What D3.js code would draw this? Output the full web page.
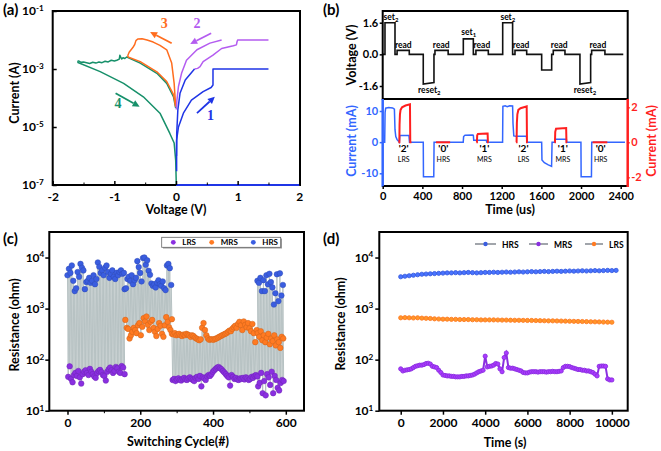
<!DOCTYPE html>
<html><head><meta charset="utf-8">
<script src="https://cdn.jsdelivr.net/npm/d3@7"></script>
<style>
html,body{margin:0;padding:0;background:#fff;}
svg{display:block;font-family:Lato,"Open Sans",sans-serif;font-weight:bold;}
</style></head><body>
<svg id="fig" width="661" height="451"></svg>
<script>
// ---------- (a) I-V sweeps [V, I(A)] ----------
const iv1Set = [[0.01,3e-7],[0.01,3.5e-6],[0.04,1.0e-5],[0.12,3.0e-5],[0.25,8.5e-5],[0.44,1.65e-4],[0.57,2.3e-4],[0.6,2.8e-4],[0.6,1e-3],[1.5,1e-3]];
const iv1Reset = [[0.3,1e-3],[0.15,4.2e-4],[0.065,1.45e-4],[0.03,3.9e-5],[0.012,6.3e-6],[0.008,1e-6]];
const iv1Floor = [[0,1e-7],[2,1e-7]];
const iv2Set = [[0.3,1e-3],[0.35,1.05e-3],[0.39,1.2e-3],[0.44,1.8e-3],[0.6,3.0e-3],[0.74,5.1e-3],[0.93,6.3e-3],[0.98,6.8e-3],[0.99,8.7e-3],[1.0,1e-2],[1.5,1e-2]];
const iv2Reset = [[0.74,1e-2],[0.55,7.8e-3],[0.34,4.6e-3],[0.17,2.0e-3],[0.09,7.1e-4],[0.04,2.5e-4],[0.015,8.5e-5],[0.005,4e-5]];
const iv3Set = [[-0.005,5e-5],[-0.03,3.2e-4],[-0.07,1.6e-3],[-0.15,4.6e-3],[-0.26,6.5e-3],[-0.37,8.5e-3],[-0.47,1.0e-2],[-0.55,1.1e-2],[-0.62,1.08e-2],[-0.65,9.5e-3],[-0.67,7e-3],[-0.70,5.5e-3],[-0.76,3.8e-3],[-0.78,3.0e-3],[-0.78,2.6e-3]];
const iv3Reset = [[-0.78,2.6e-3],[-0.58,1.8e-3],[-0.31,8e-4],[-0.15,3.7e-4],[-0.04,1.3e-4],[-0.005,5e-5]];
const iv4Set = [[-0.005,4.5e-5],[-0.04,1.1e-4],[-0.15,3.2e-4],[-0.31,7.1e-4],[-0.58,1.6e-3],[-0.77,2.45e-3],[-0.80,2.6e-3],[-0.83,2.3e-3],[-0.86,2.45e-3],[-0.88,2.2e-3],[-0.90,2.6e-3],[-0.91,3.0e-3],[-0.92,2.2e-3],[-0.96,2.0e-3],[-1.0,1.9e-3],[-1.05,2.0e-3],[-1.1,1.75e-3],[-1.15,1.85e-3],[-1.2,1.65e-3],[-1.25,1.75e-3],[-1.3,1.6e-3],[-1.35,1.7e-3],[-1.4,1.55e-3],[-1.45,1.65e-3],[-1.5,1.75e-3],[-1.54,1.7e-3],[-1.58,1.9e-3],[-1.6,1.8e-3]];
const iv4Reset = [[-1.6,1.7e-3],[-1.23,8.1e-4],[-0.85,3.2e-4],[-0.53,1.1e-4],[-0.26,3e-5],[-0.10,6e-6],[-0.03,2.8e-6],[-0.005,7e-7],[0.005,1e-7]];
const ivArrows = [
  {n:"3", c:"#ff6d1f", from:[-0.07,7.7e-3], to:[-0.42,1.9e-2], lab:[-0.19,2.6e-2]},
  {n:"2", c:"#b45cf0", from:[0.57,1.7e-2], to:[0.23,7.3e-3], lab:[0.34,2.6e-2]},
  {n:"1", c:"#1f35e6", from:[0.34,3e-5], to:[0.63,1.1e-4], lab:[0.56,1.7e-5]},
  {n:"4", c:"#17906a", from:[-0.98,1.45e-4], to:[-0.59,5e-5], lab:[-0.94,4.6e-5]}
];
const ivXTicks = [-2,-1,0,1,2];
const ivXMinor = [-1.5,-0.5,0.5,1.5];
const ivYTicks = [1e-1,1e-3,1e-5,1e-7];

// ---------- (b) pulse train ----------
const voltT = [0,23,23,124,124,145,145,268,268,409,409,517,517,527,527,660,660,813,813,914,914,940,940,1065,1065,1210,1210,1310,1310,1334,1334,1452,1452,1603,1603,1704,1704,1720,1720,1838,1838,1989,1989,2097,2097,2107,2107,2241,2241,2426];
const voltV = [0,0,1.6,1.6,0,0,0.2,0.2,0,0,-1.5,-1.42,0,0,0.2,0.2,0,0,0.78,0.78,0,0,0.2,0.2,0,0,1.6,1.6,0,0,0.2,0.2,0,0,-0.79,-0.79,0,0,0.2,0.2,0,0,-1.5,-1.42,0,0,0.2,0.2,0,0];
const voltLabels = [
  {t:84,v:1.72,s:"set",sub:"2"},{t:208,v:0.34,s:"read"},{t:470,v:-1.93,s:"reset",sub:"2"},
  {t:590,v:0.34,s:"read"},{t:868,v:0.97,s:"set",sub:"1"},{t:1000,v:0.34,s:"read"},
  {t:1262,v:1.72,s:"set",sub:"2"},{t:1395,v:0.34,s:"read"},{t:1780,v:0.34,s:"read"},
  {t:2040,v:-1.93,s:"reset",sub:"2"},{t:2170,v:0.34,s:"read"}
];
const curBlue = [[0,0],[20,0],[24,9.5],[30,10.9],[60,11.1],[100,11],[118,10.6],[124,4],[132,1.8],[145,0.8],[160,0.3],[168,0],[172,2.0],[180,2.1],[265,2.1],[270,0],[409,0],[411,-11.1],[515,-11.1],[518,0],[812,0],[816,1.8],[830,2.2],[905,2.3],[914,2.2],[918,0.6],[1045,0.6],[1050,0],[1209,0],[1212,11.5],[1235,11.7],[1256,11.4],[1280,11.7],[1310,11.6],[1314,6],[1322,2.0],[1345,1.9],[1450,1.9],[1455,0],[1603,0],[1606,-5.7],[1630,-6.6],[1670,-7.3],[1703,-7.8],[1708,0],[1737,0],[1740,0.95],[1852,0.95],[1855,0],[1999,0],[2001,-11.1],[2105,-11.1],[2108,0],[2443,0]];
const curRed1 = [[158,0],[168,0],[170,1.0],[174,1.6],[180,1.85],[195,2.0],[230,2.1],[275,2.17],[278,0],[290,0]];
const curRed2 = [[538,0],[680,0]];
const curRed3 = [[945,0],[950,0],[953,0.4],[960,0.47],[1050,0.5],[1058,0.5],[1061,0],[1068,0]];
const curRed4 = [[1345,0],[1350,0],[1353,1.1],[1358,1.6],[1368,1.85],[1390,1.95],[1440,2.03],[1452,2.05],[1455,0],[1462,0]];
const curRed5 = [[1732,0],[1737,0],[1740,0.6],[1748,0.78],[1850,0.82],[1853,0],[1860,0]];
const curRed6 = [[2117,0],[2265,0]];
const stateLabels = [{t:212,q:"'2'",s:"LRS"},{t:612,q:"'0'",s:"HRS"},{t:1026,q:"'1'",s:"MRS"},{t:1420,q:"'2'",s:"LRS"},{t:1817,q:"'1'",s:"MRS"},{t:2198,q:"'0'",s:"HRS"}];
const timeTicks = [0,400,800,1200,1600,2000,2400];
const voltTicks = [-1.6,0,1.6];
const curTicks = [-10,0,10];
const curRTicks = [-2,0,2];

// ---------- (c) cycling endurance (ohm) ----------
const segCycles = [[0,155],[157,285],[287,520],[522,592]];
const hrs1 = [4500,6000,5000,7000,3500,2200,2500,5200,4200,7500,6300,5600,2400,3300,3500,4000,3200,3500,4500,3000,3800,8000,6600,5000,5600,4500,6300,7000,5200,4000,4800,5600,4200,3800,5000,4500,5200,5600,4800,5000];
const lrs1 = [46,74,42,36,50,55,48,60,45,34,52,58,62,55,50,66,58,52,47,44,55,60,63,57,50,48,39,58,65,70,62,55,60,72,68,58,55,75,70,52];
const hrs2 = [2400,2500,3800,4200,3500,4500,3000,3600,4000,8500,6500,5000,3400,9800,10000,7200,8800,5500,4600,3100,2800,3000,2600,3200,3600,3000,2800,3400,2500,2300,7000,7500,6200,2900];
const mrs2 = [600,420,400,260,300,350,420,380,330,470,520,300,440,650,560,700,480,380,550,600,420,350,290,400,520,460,320,280,470,680,550,430,380,620];
const mrs3 = [320,310,330,300,310,320,300,290,310,300,320,310,300,280,300,290,270,260,250,240,250,420,520,380,300,260,245,250,250,245,255,260,270,280,290,300,310,320,330,350,370,360,400,430,460,420,500,550,470,380,560,480,430,520,410,360,500,330,220,380];
const lrs3 = [40,42,38,41,43,40,39,42,44,41,40,43,45,42,40,38,44,46,42,48,30,45,43,40,47,50,48,52,58,62,66,70,72,68,65,60,56,52,48,45,31,50,46,42,44,41,40,43,42,44,41,45,43,40,42,46,44,48,50,47];
const hrs4 = [3500,3200,4000,2200,3600,2200,4500,3000,4800,3300,2600,1200,2000,4700,1400,4900,1800,2900];
const mrs4 = [330,280,360,240,300,220,270,320,200,260,230,300,190,250,220,170,280,260];
const lrs4 = [30,35,55,22,38,20,52,45,32,58,22,48,40,28,25,35,40,38];
const cycleTicks = [0,200,400,600];
const cycleMinor = [100,300,500];
const resTicks = [10,100,1000,10000];

// ---------- (d) retention (ohm), HRS/LRS every 200 s, MRS every 100 s ----------
const retHRS = [4200,4300,4400,4500,4600,4700,4750,4800,4850,4900,4950,5000,5000,5050,5000,5050,5100,5050,5000,5050,5100,5100,5150,5100,5150,5200,5150,5200,5250,5200,5250,5300,5250,5300,5350,5300,5350,5400,5350,5400,5450,5400,5450,5500,5450,5500,5550,5500,5550,5600,5550,5600];
const retLRS = [660,665,660,655,660,650,645,640,630,625,620,620,615,615,610,610,610,605,605,600,600,600,600,598,595,595,592,590,590,588,585,585,583,580,578,575,575,572,570,568,565,562,560,558,555,552,550,548,545,542,540];
const retMRS = [66,60,62,63,64, 66,70,74,76,78,78,80, 84,85,82, 74,72,70, 62,56,50, 49,48,48,47,47,46,46,46,47,47,48,48,49,50,52,55, 58,60,62, 117, 72,74,75,78, 84,82, 66,58, 110, 135, 70,68,68, 66,64,62,60, 56,55,55, 57,58,58,58,57,58,58,58,57,58,58,59,58,58,59,60, 70,74,74,73,70,68, 66,64,64,62,62,60,60,58, 56,52,48, 74,75,75,74, 42,40,40];
const retStepHL = 200, retStepM = 100;
const retTicks = [0,2000,4000,6000,8000,10000];

// ---------- colours ----------
const C = {hrs:"#3a5de0", mrs:"#ff7a22", lrs:"#8a2fe0", vb:"#3366ff", vr:"#ff1f1f"};

const svg = d3.select("#fig");
svg.append("rect").attr("width",661).attr("height",451).attr("fill","#fff");

function styleAxis(g, fs, color, lw){
  g.attr("font-family",null).attr("font-size",null);
  g.select(".domain").remove();
  g.selectAll("text").attr("font-size",fs).attr("fill",color);
  g.selectAll("line").attr("stroke",color).attr("stroke-width",lw||1.5);
}
function powLabels(g, fs){
  g.selectAll(".tick text").each(function(d){
    const e = Math.round(Math.log10(d));
    const t = d3.select(this); t.text(null);
    t.append("tspan").text("10");
    t.append("tspan").attr("dy","-0.55em").attr("font-size",(fs*0.68)+"px").text(e);
  });
}
function arrow(g, x1,y1,x2,y2,color){
  const a = Math.atan2(y2-y1,x2-x1), L=7, W=3.4;
  const bx = x2 - L*Math.cos(a), by = y2 - L*Math.sin(a);
  g.append("line").attr("x1",x1).attr("y1",y1).attr("x2",bx).attr("y2",by).attr("stroke",color).attr("stroke-width",1.8);
  g.append("path").attr("d",`M${x2},${y2}L${bx - W*Math.sin(a)},${by + W*Math.cos(a)}L${bx + W*Math.sin(a)},${by - W*Math.cos(a)}Z`).attr("fill",color);
}
function panelTag(x,y,s){ svg.append("text").attr("x",x).attr("y",y).attr("font-size",15).text(s); }

// =============== (a) ===============
{
  const x = d3.scaleLinear().domain([-2,2]).range([52.7,299.3]);
  const y = d3.scaleLog().domain([1e-7,1e-1]).range([185,11]);
  const g = svg.append("g");
  const line = d3.line().x(d=>x(d[0])).y(d=>y(d[1]));
  const draw = (d,c,w)=>g.append("path").attr("d",line(d)).attr("fill","none").attr("stroke",c).attr("stroke-width",w||1.5).attr("stroke-linejoin","round");
  draw(iv4Set,"#17906a"); draw(iv4Reset,"#17906a");
  draw(iv3Set,"#ff6d1f"); draw(iv3Reset,"#ff6d1f");
  draw(iv2Set,"#b45cf0"); draw(iv2Reset,"#b45cf0");
  draw(iv1Set,"#1f35e6"); draw(iv1Reset,"#1f35e6");
  ivArrows.forEach(a=>{
    arrow(g, x(a.from[0]),y(a.from[1]),x(a.to[0]),y(a.to[1]),a.c);
    g.append("text").attr("x",x(a.lab[0])).attr("y",y(a.lab[1])).attr("text-anchor","middle")
      .attr("font-family","'Liberation Serif',serif").attr("font-size",14).attr("fill",a.c).text(a.n);
  });
  g.append("rect").attr("x",52.7).attr("y",11).attr("width",247.3).attr("height",174).attr("fill","none").attr("stroke","#000").attr("stroke-width",2);
  draw(iv1Floor,"#1f35e6",2);
  const ax = g.append("g").attr("transform","translate(0,185)").call(d3.axisBottom(x).tickValues(ivXTicks).tickSize(-4).tickPadding(7).tickFormat(d=>String(d)));
  styleAxis(ax,12,"#000");
  const axm = g.append("g").attr("transform","translate(0,185)").call(d3.axisBottom(x).tickValues(ivXMinor).tickSize(-2.5).tickFormat(""));
  styleAxis(axm,12,"#000",1);
  const ay = g.append("g").attr("transform","translate(52.7,0)").call(d3.axisLeft(y).tickValues(ivYTicks).tickSize(-4).tickPadding(9));
  styleAxis(ay,12,"#000"); powLabels(ay,12);
  g.append("text").attr("x",176).attr("y",214).attr("text-anchor","middle").attr("font-size",12.5).text("Voltage (V)");
  g.append("text").attr("transform","translate(19,93) rotate(-90)").attr("text-anchor","middle").attr("font-size",12.5).text("Current (A)");
  panelTag(3,15,"(a)");
}

// =============== (b) ===============
{
  const x = d3.scaleLinear().domain([0,2400]).range([382.7,620.7]);
  const yV = d3.scaleLinear().domain([-1.6,1.6]).range([86,22.7]);
  const yI = d3.scaleLinear().domain([-10,10]).range([173.3,111]);
  const yR = d3.scaleLinear().domain([-2,2]).range([177.3,107.3]);
  const g = svg.append("g");
  const vline = d3.line().x((d,i)=>x(voltT[i])).y(d=>yV(d));
  g.append("path").attr("d",vline(voltV)).attr("fill","none").attr("stroke","#111").attr("stroke-width",1.6);
  voltLabels.forEach(l=>{
    const t = g.append("text").attr("x",x(l.t)).attr("y",yV(l.v)).attr("text-anchor","middle").attr("font-size",8.5).text(l.s);
    if(l.sub) t.append("tspan").attr("dy",2).attr("font-size",6).text(l.sub);
  });
  const bl = d3.line().x(d=>x(d[0])).y(d=>yI(d[1]));
  g.append("path").attr("d",bl(curBlue)).attr("fill","none").attr("stroke",C.vb).attr("stroke-width",1.5);
  const rl = d3.line().x(d=>x(d[0])).y(d=>yR(d[1]));
  [curRed1,curRed2,curRed3,curRed4,curRed5,curRed6].forEach(r=>{
    g.append("path").attr("d",rl(r)).attr("fill","none").attr("stroke",C.vr).attr("stroke-width",2);
  });
  stateLabels.forEach(s=>{
    g.append("text").attr("x",x(s.t)).attr("y",151.5).attr("text-anchor","middle").attr("font-size",10).text(s.q);
    g.append("text").attr("x",x(s.t)).attr("y",162).attr("text-anchor","middle").attr("font-size",7).attr("font-weight","normal").text(s.s);
  });
  // frames
  g.append("rect").attr("x",382.7).attr("y",11).attr("width",245).attr("height",88).attr("fill","none").attr("stroke","#000").attr("stroke-width",2);
  g.append("line").attr("x1",382.7).attr("x2",627.7).attr("y1",186).attr("y2",186).attr("stroke","#000").attr("stroke-width",2);
  g.append("line").attr("x1",382.7).attr("x2",382.7).attr("y1",99).attr("y2",187).attr("stroke",C.vb).attr("stroke-width",2.5);
  g.append("line").attr("x1",627.7).attr("x2",627.7).attr("y1",99).attr("y2",187).attr("stroke",C.vr).attr("stroke-width",2.5);
  const ax = g.append("g").attr("transform","translate(0,186)").call(d3.axisBottom(x).tickValues(timeTicks).tickSize(3).tickPadding(3).tickFormat(d=>String(d)));
  styleAxis(ax,11,"#000");
  const aV = g.append("g").attr("transform","translate(382.7,0)").call(d3.axisLeft(yV).tickValues(voltTicks).tickSize(3).tickPadding(1.5).tickFormat(d3.format(".1f")));
  styleAxis(aV,11,"#000");
  aV.selectAll("text").text(d=>d3.format(".1f")(d).replace("\u2212","-"));
  const aI = g.append("g").attr("transform","translate(382.7,0)").call(d3.axisLeft(yI).tickValues(curTicks).tickSize(3).tickPadding(1.5).tickFormat(d=>String(d)));
  styleAxis(aI,11,C.vb);
  const aR = g.append("g").attr("transform","translate(627.7,0)").call(d3.axisRight(yR).tickValues(curRTicks).tickSize(2).tickPadding(1.5).tickFormat(d=>String(d)));
  styleAxis(aR,11,C.vr);
  g.append("text").attr("x",510).attr("y",214).attr("text-anchor","middle").attr("font-size",12.5).text("Time (us)");
  g.append("text").attr("transform","translate(356,55) rotate(-90)").attr("text-anchor","middle").attr("font-size",12.5).text("Voltage (V)");
  g.append("text").attr("transform","translate(356,141) rotate(-90)").attr("text-anchor","middle").attr("font-size",12.5).attr("fill",C.vb).text("Current (mA)");
  g.append("text").attr("transform","translate(656,141) rotate(-90)").attr("text-anchor","middle").attr("font-size",12.5).attr("fill",C.vr).text("Current (mA)");
  panelTag(323,15,"(b)");
}

// =============== (c) ===============
{
  const x = d3.scaleLinear().domain([-50,650]).range([49.3,304]);
  const y = d3.scaleLog().domain([10,Math.pow(10,4.5)]).range([410.7,232]);
  const g = svg.append("g");
  const segs = [[hrs1,lrs1],[hrs2,mrs2],[mrs3,lrs3],[hrs4,lrs4]];
  const posX = (s,i,n,off)=>{ const c=segCycles[s]; const st=(c[1]-c[0])/(n-1); return c[0]+st*(i+(off||0)); };
  const zz = d3.line().x(d=>x(d[0])).y(d=>y(d[1]));
  segs.forEach((p,s)=>{
    const pts=[]; const n=p[0].length;
    for(let i=0;i<n;i++){ pts.push([posX(s,i,n,0),p[0][i]]); pts.push([posX(s,i,n,0.5),p[1][i]]); }
    g.append("path").attr("d",zz(pts)).attr("fill","none").attr("stroke","#b7c2c3").attr("stroke-width",1);
  });
  const dots = (arr,s,off,col)=>{
    g.append("g").selectAll("circle").data(arr).join("circle")
      .attr("cx",(d,i)=>x(posX(s,i,arr.length,off))).attr("cy",d=>y(d)).attr("r",2.8)
      .attr("fill",col).attr("stroke",d3.color(col).darker(0.6)).attr("stroke-width",0.5);
  };
  dots(lrs1,0,0.5,C.lrs); dots(lrs3,2,0.5,C.lrs); dots(lrs4,3,0.5,C.lrs);
  dots(mrs2,1,0.5,C.mrs); dots(mrs3,2,0,C.mrs); dots(mrs4,3,0.25,C.mrs);
  dots(hrs1,0,0,C.hrs); dots(hrs2,1,0,C.hrs); dots(hrs4,3,0,C.hrs);
  g.append("rect").attr("x",49.3).attr("y",232).attr("width",254.7).attr("height",178.7).attr("fill","none").attr("stroke","#000").attr("stroke-width",2);
  const ax = g.append("g").attr("transform","translate(0,410.7)").call(d3.axisBottom(x).tickValues(cycleTicks).tickSize(4).tickPadding(4).tickFormat(d=>String(d)));
  styleAxis(ax,12,"#000");
  const axm = g.append("g").attr("transform","translate(0,410.7)").call(d3.axisBottom(x).tickValues(cycleMinor).tickSize(2.5).tickFormat(""));
  styleAxis(axm,12,"#000",1);
  const ay = g.append("g").attr("transform","translate(49.3,0)").call(d3.axisLeft(y).tickValues(resTicks).tickSize(4).tickPadding(1));
  styleAxis(ay,12,"#000"); powLabels(ay,12);
  // legend
  g.append("rect").attr("x",163).attr("y",238.5).attr("width",119).attr("height",10).attr("fill","#999");
  g.append("rect").attr("x",161.7).attr("y",237.3).attr("width",119).attr("height",10).attr("fill","#fff").attr("stroke","#666").attr("stroke-width",0.8);
  [["LRS",C.lrs,173.3],["MRS",C.mrs,211.7],["HRS",C.hrs,253.3]].forEach(l=>{
    g.append("circle").attr("cx",l[2]).attr("cy",242.3).attr("r",2.4).attr("fill",l[1]);
    g.append("text").attr("x",l[2]+9).attr("y",245.3).attr("font-size",8).text(l[0]);
  });
  g.append("text").attr("x",178).attr("y",446).attr("text-anchor","middle").attr("font-size",12.5).text("Switching Cycle(#)");
  g.append("text").attr("transform","translate(19,325) rotate(-90)").attr("text-anchor","middle").attr("font-size",12.5).text("Resistance (ohm)");
  panelTag(3,244,"(c)");
}

// =============== (d) ===============
{
  const x = d3.scaleLinear().domain([-1015,10750]).range([379.3,627.7]);
  const y = d3.scaleLog().domain([10,Math.pow(10,4.5)]).range([410.7,232]);
  const g = svg.append("g");
  const series = [[retHRS,retStepHL,C.hrs],[retLRS,retStepHL,C.mrs],[retMRS,retStepM,C.lrs]];
  series.forEach(s=>{
    const ln = d3.line().x((d,i)=>x(i*s[1])).y(d=>y(d));
    g.append("path").attr("d",ln(s[0])).attr("fill","none").attr("stroke",s[2]).attr("stroke-width",2);
    g.append("g").selectAll("circle").data(s[0]).join("circle")
      .attr("cx",(d,i)=>x(i*s[1])).attr("cy",d=>y(d)).attr("r",2.1)
      .attr("fill",d3.color(s[2]).brighter(0.6)).attr("stroke",s[2]).attr("stroke-width",0.9);
  });
  g.append("rect").attr("x",379.3).attr("y",232).attr("width",248.4).attr("height",178.7).attr("fill","none").attr("stroke","#000").attr("stroke-width",2);
  const ax = g.append("g").attr("transform","translate(0,410.7)").call(d3.axisBottom(x).tickValues(retTicks).tickSize(4).tickPadding(4).tickFormat(d=>String(d)));
  styleAxis(ax,12,"#000");
  const ay = g.append("g").attr("transform","translate(379.3,0)").call(d3.axisLeft(y).tickValues(resTicks).tickSize(4).tickPadding(2));
  styleAxis(ay,12,"#000"); powLabels(ay,12);
  [["HRS",C.hrs,475,496],["MRS",C.lrs,529,548],["LRS",C.mrs,585,603]].forEach(l=>{
    g.append("line").attr("x1",l[2]).attr("x2",l[3]).attr("y1",244).attr("y2",244).attr("stroke","#8a8f96").attr("stroke-width",1.6);
    g.append("circle").attr("cx",(l[2]+l[3])/2).attr("cy",244).attr("r",2.2).attr("fill",l[1]);
    g.append("text").attr("x",l[3]+6).attr("y",247.5).attr("font-size",8.5).text(l[0]);
  });
  g.append("text").attr("x",505).attr("y",447).attr("text-anchor","middle").attr("font-size",12.5).text("Time (s)");
  g.append("text").attr("transform","translate(345,324) rotate(-90)").attr("text-anchor","middle").attr("font-size",12.5).text("Resistance (ohm)");
  panelTag(323,244,"(d)");
}
</script>
</body></html>
